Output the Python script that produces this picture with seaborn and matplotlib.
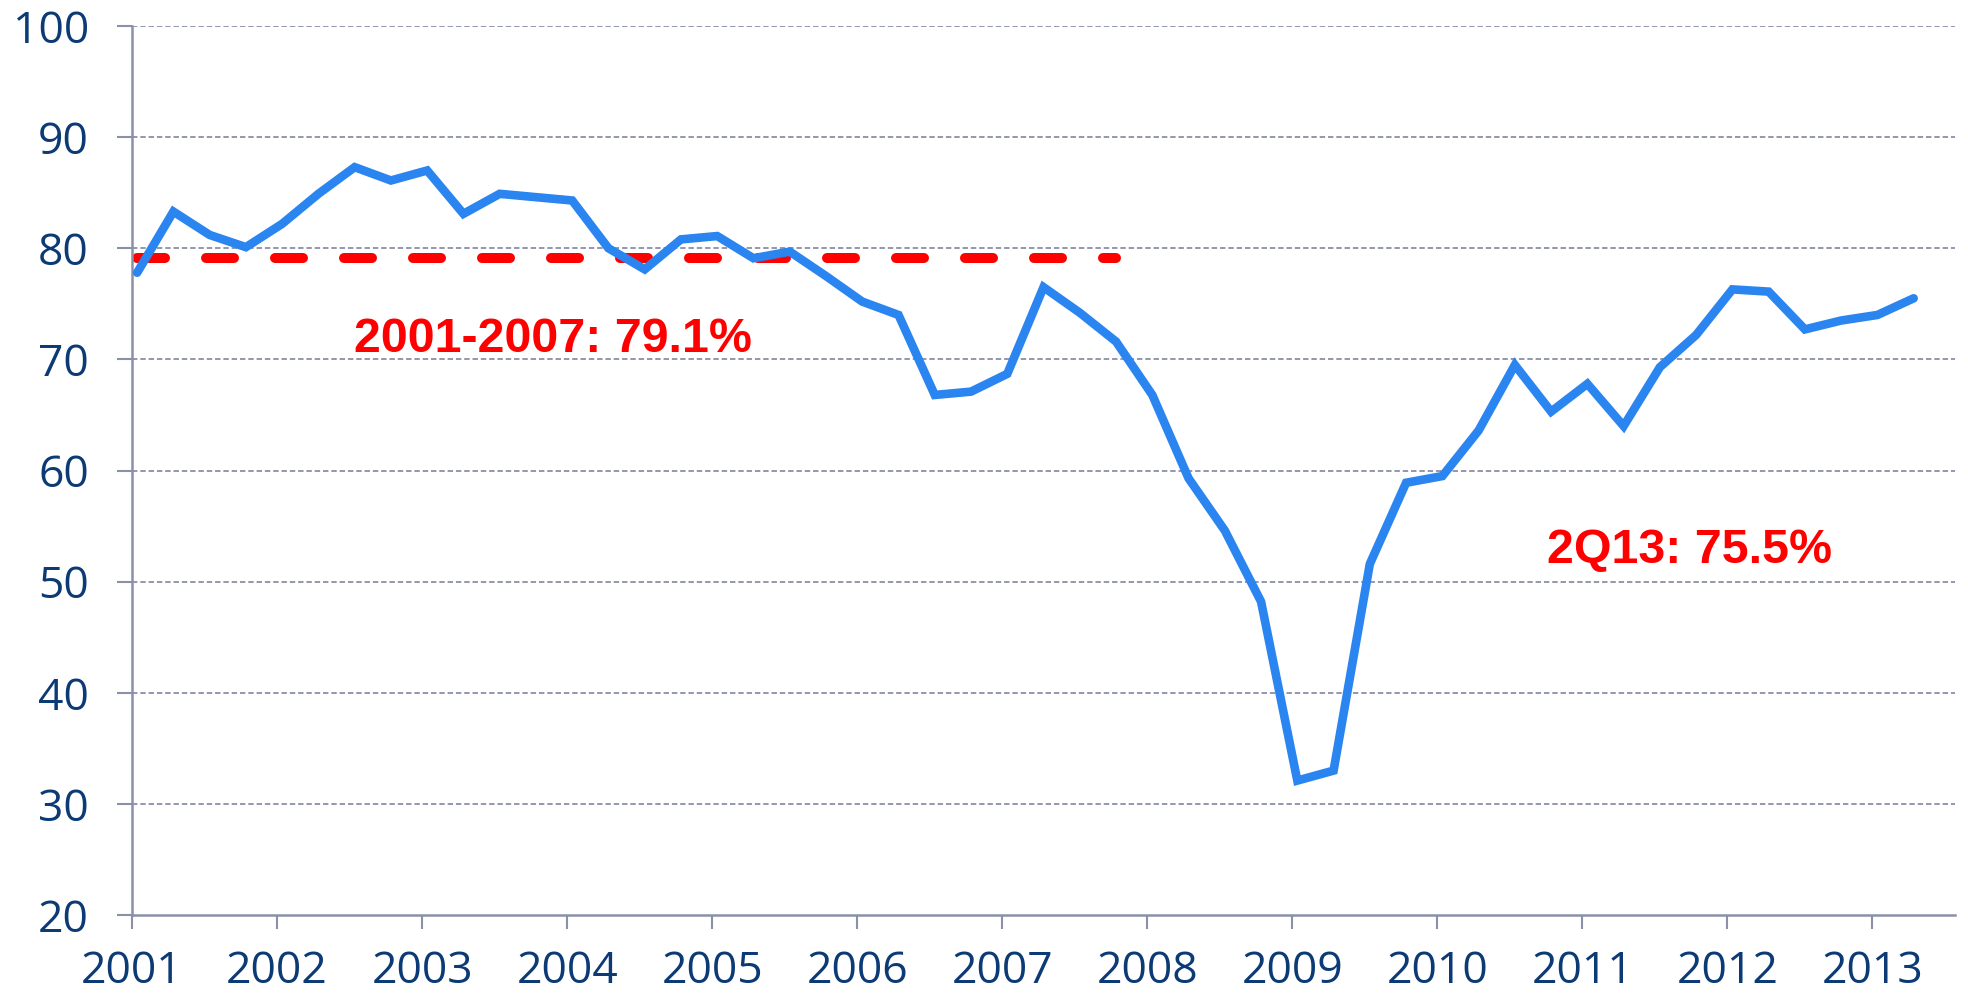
import numpy as np
import pandas as pd
import matplotlib
matplotlib.use("Agg")
import matplotlib.pyplot as plt
import seaborn as sns

# ---- data ----
start_year = 2001
utilization = [
    77.8, 83.3, 81.2, 80.1, 82.2, 84.9, 87.3, 86.1, 87.0, 83.1,
    84.9, 84.6, 84.3, 80.0, 78.1, 80.8, 81.1, 79.1, 79.7, 77.5,
    75.2, 74.0, 66.8, 67.1, 68.7, 76.5, 74.2, 71.6, 66.8, 59.3,
    54.6, 48.2, 32.1, 33.0, 51.6, 58.9, 59.5, 63.6, 69.5, 65.3,
    67.8, 64.0, 69.3, 72.2, 76.3, 76.1, 72.7, 73.5, 74.0, 75.5,
]
avg_value = 79.1
avg_quarters = 28  # 2001Q1 .. 2007Q4
year_ticks = list(range(2001, 2014))
y_ticks = [20, 30, 40, 50, 60, 70, 80, 90, 100]
label_avg = "2001-2007: 79.1%"
label_last = "2Q13: 75.5%"

# ---- frame ----
t = start_year + np.arange(len(utilization)) / 4.0 + 0.035
df = pd.DataFrame({"t": t, "value": utilization})
df_avg = pd.DataFrame({"t": t[:avg_quarters], "value": [avg_value] * avg_quarters})

sns.set_style("white")
plt.rcParams["font.family"] = ["Open Sans", "DejaVu Sans"]

fig = plt.figure(figsize=(19.68, 9.93), dpi=100)
ax = fig.add_axes([0.0671, 0.0785, 0.9263, 0.8953])

grid_col = "#8b90a9"
navy = "#0b3a75"

for v in y_ticks[1:]:
    ax.axhline(v, color=grid_col, lw=1.3, ls=(0, (3, 1.6)), zorder=0)

sns.lineplot(data=df_avg, x="t", y="value", ax=ax, color="#ff0000", lw=7.2,
             linestyle=(0, (2.8, 4.1)), dash_capstyle="round", zorder=2)
sns.lineplot(data=df, x="t", y="value", ax=ax, color="#2b85f0", lw=6.2,
             solid_joinstyle="miter", solid_capstyle="round", zorder=3)

ax.set_xlim(2001, 2013.57)
ax.set_ylim(20, 100)
ax.set_xticks(year_ticks)
ax.set_yticks(y_ticks)
ax.set_xlabel("")
ax.set_ylabel("")

for s in ["top", "right"]:
    ax.spines[s].set_visible(False)
for s in ["left", "bottom"]:
    ax.spines[s].set_color(grid_col)
    ax.spines[s].set_linewidth(1.8)

ax.tick_params(axis="y", direction="out", length=11, width=1.5, color=grid_col,
               labelsize=32, labelcolor=navy, pad=20, left=True)
ax.tick_params(axis="x", direction="out", length=10, width=1.5, color=grid_col,
               labelsize=32, labelcolor=navy, pad=15, bottom=True)

ax.text(2003.9, 70.7, label_avg, color="#ff0000", fontsize=34.8, fontweight="bold",
        family=["Liberation Sans", "DejaVu Sans"], ha="center", va="baseline")
ax.text(2011.74, 51.7, label_last, color="#ff0000", fontsize=34.8, fontweight="bold",
        family=["Liberation Sans", "DejaVu Sans"], ha="center", va="baseline")

fig.savefig("out.png", dpi=100)
